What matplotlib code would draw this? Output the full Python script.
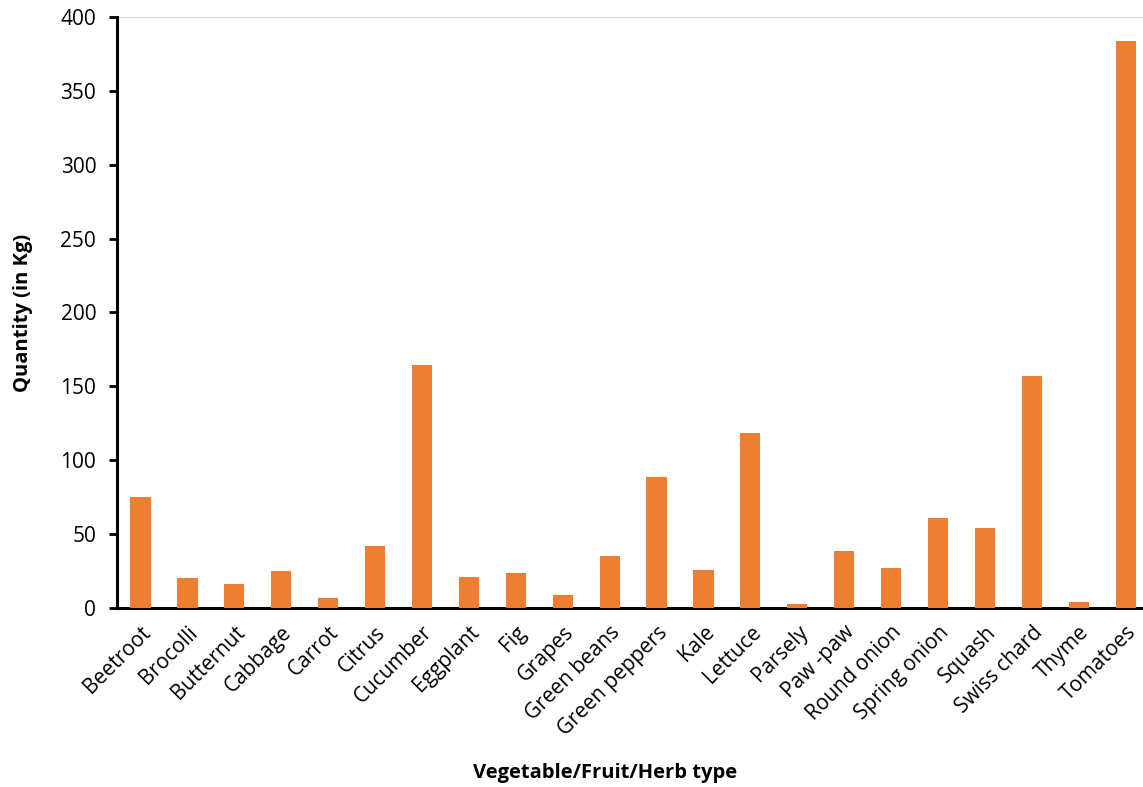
import matplotlib
matplotlib.use("Agg")
import matplotlib.pyplot as plt
import numpy as np

plt.rcParams['font.family'] = ['Open Sans', 'DejaVu Sans']

categories = ["Beetroot", "Brocolli", "Butternut", "Cabbage", "Carrot", "Citrus",
              "Cucumber", "Eggplant", "Fig", "Grapes", "Green beans", "Green peppers",
              "Kale", "Lettuce", "Parsely", "Paw -paw", "Round onion", "Spring onion",
              "Squash", "Swiss chard", "Thyme", "Tomatoes"]
quantity = [75, 20, 16, 25, 7, 42, 164.5, 21, 24, 9, 35, 88.5, 26, 118.5, 3, 38.5,
            27, 61, 54, 157, 4, 384]

fig = plt.figure(figsize=(11.43, 7.87), dpi=100)
ax = fig.add_axes([0.1024, 0.2275, 0.903, 0.7509])

x = np.arange(len(categories))
ax.bar(x, quantity, width=0.43, color="#ED7D31", zorder=3)

ax.set_xlim(-0.5, len(categories) - 0.5)
ax.set_ylim(0, 400)
ax.set_yticks(np.arange(0, 401, 50))
ax.axhline(400, color="#d9d9d9", lw=1, zorder=1)

ax.set_xticks(x)
ax.set_xticklabels(categories, rotation=45, ha="right", rotation_mode="anchor", fontsize=15)
ax.tick_params(axis="x", length=0, pad=10)
ax.tick_params(axis="y", labelsize=15, length=6, width=2, direction="out", pad=9)

for s in ["top", "right"]:
    ax.spines[s].set_visible(False)
for s in ["left", "bottom"]:
    ax.spines[s].set_linewidth(2.2)
    ax.spines[s].set_color("black")

ax.set_ylabel("Quantity (in Kg)", fontsize=14.5, fontweight="bold", labelpad=20)
ax.set_xlabel("Vegetable/Fruit/Herb type", fontsize=14.5, fontweight="bold", va="center")
ax.xaxis.set_label_coords((605 - 117) / 1032, -(773 - 608) / 591)

fig.savefig("out.png", dpi=100)
